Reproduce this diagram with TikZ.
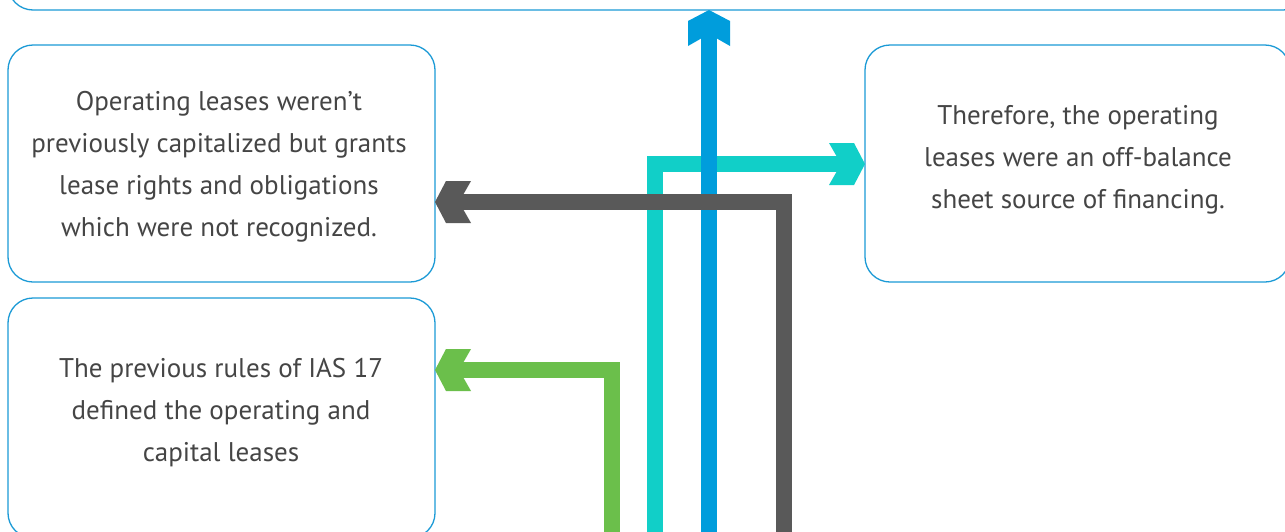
\documentclass[tikz,border=0pt]{standalone}
\usepackage{fontspec}
\setmainfont{PT Sans}
\usetikzlibrary{arrows.meta}
\definecolor{boxblue}{HTML}{1B9AD6}
\definecolor{txtgray}{HTML}{454545}
\definecolor{arblue}{HTML}{009DDC}
\definecolor{arteal}{HTML}{11CFC8}
\definecolor{argray}{HTML}{595959}
\definecolor{argreen}{HTML}{6BBF4B}
\pgfdeclarearrow{
  name = Chev,
  setup code = {
    \pgfarrowssettipend{0pt}
    \pgfarrowssetlineend{-24pt}
    \pgfarrowssetvisualbackend{-36pt}
    \pgfarrowssetbackend{-36pt}
    \pgfarrowshullpoint{0pt}{0pt}
    \pgfarrowshullpoint{-36pt}{21pt}
    \pgfarrowshullpoint{-36pt}{-21pt}
  },
  drawing code = {
    \pgfpathmoveto{\pgfqpoint{0pt}{0pt}}
    \pgfpathlineto{\pgfqpoint{-11pt}{21pt}}
    \pgfpathlineto{\pgfqpoint{-36pt}{21pt}}
    \pgfpathlineto{\pgfqpoint{-24pt}{0pt}}
    \pgfpathlineto{\pgfqpoint{-36pt}{-21pt}}
    \pgfpathlineto{\pgfqpoint{-11pt}{-21pt}}
    \pgfpathclose
    \pgfusepathqfill
  }
}
\tikzset{
  box/.style={draw=boxblue, line width=1.3pt, rounded corners=25pt, outer sep=0pt, inner sep=0pt, fill=white},
  txt/.style={text=txtgray, align=center, font=\fontsize{27}{42}\selectfont},
  conn/.style={line width=16pt, -{Chev}},
}
\begin{document}
\begin{tikzpicture}[x=1pt, y=-1pt]
\clip (0,0) rectangle (1285,531);
\fill[white] (0,0) rectangle (1285,531);
% boxes
\node[box, minimum width=1300pt, minimum height=80pt] (top) at (658,-30) {};
\node[box, minimum width=427pt, minimum height=237pt] (l1) at (221.5,163.5) {};
\node[box, minimum width=427pt, minimum height=240pt] (l2) at (221.5,418) {};
\node[box, minimum width=425pt, minimum height=237pt] (r) at (1077.5,163.5) {};
% texts
\node[txt] (l1t) at (219,167) {Operating leases weren’t\\previously capitalized but grants\\lease rights and obligations\\which were not recognized.};
\node[txt] (l2t) at (221,412.5) {The previous rules of IAS 17\\defined the operating and\\capital leases};
\node[txt] (rt) at (1078,159.5) {Therefore, the operating\\leases were an off-balance\\sheet source of financing.};
% connector start points
\coordinate (sGreen) at (612,545);
\coordinate (sTeal) at (654.5,545);
\coordinate (sBlue) at (709,545);
\coordinate (sGray) at (784,545);
% connectors
\draw[conn, argreen] (sGreen) |- (l2.east |- 0,370);
\draw[conn, arteal] (sTeal) |- (r.west |- 0,164);
\draw[conn, arblue] (sBlue) -- (sBlue |- top.south);
\draw[conn, argray] (sGray) |- (l1.east |- 0,202);
\end{tikzpicture}
\end{document}
